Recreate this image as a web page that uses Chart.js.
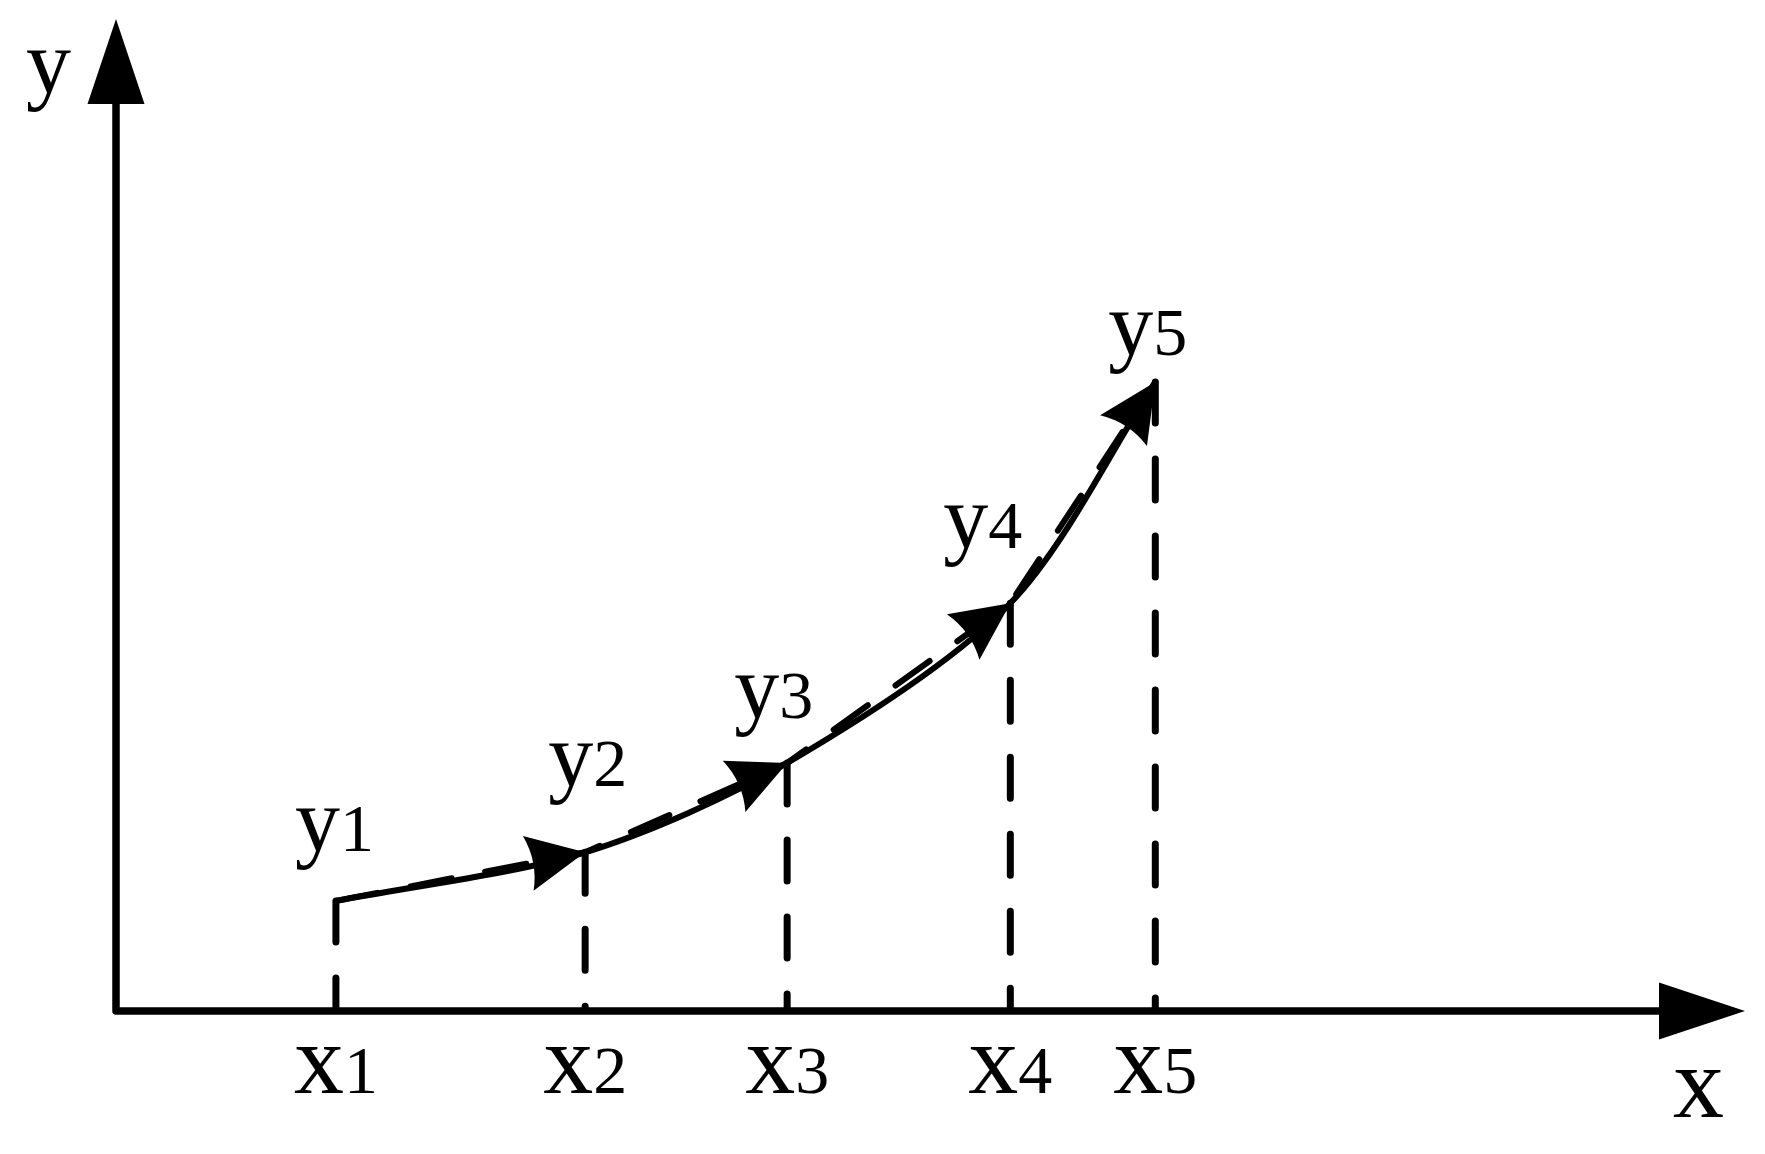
<!DOCTYPE html>
<html>
<head>
<meta charset="utf-8">
<title>x-y curve</title>
<script src="https://cdn.jsdelivr.net/npm/chart.js@4.4.1/dist/chart.umd.min.js"></script>
<style>
    html, body { margin: 0; padding: 0; background: #fff; }
    canvas { display: block; }
</style>
</head>
<body>
<canvas id="curveChart" width="1765" height="1154"></canvas>
<script>
// Data (axis runs 0..100 on both directions)
const xNames = ['x1', 'x2', 'x3', 'x4', 'x5'];
const yNames = ['y1', 'y2', 'y3', 'y4', 'y5'];
const xValues = [13.5, 28.8, 41.2, 54.9, 63.8];
const yValues = [11.1, 16.0, 25.0, 41.1, 63.4];
const axisMax = 100;

// Layout of the point labels (pixel offsets from each point: left edge, baseline)
const pointLabelOffsets = [[-41, -50], [-37, -66], [-53, -45], [-67, -55], [-47, -27]];

const FONT = '"Liberation Serif", "Times New Roman", serif';
const INK = '#000';

const points = xValues.map((x, i) => ({ x: x, y: yValues[i] }));

// vertical dashed drop lines, one dataset each
const dropLines = xValues.map((x, i) => ({
    data: [{ x: x, y: yValues[i] }, { x: x, y: 0 }],
    borderColor: INK,
    borderWidth: 7,
    borderDash: [41, 36],
    borderCapStyle: 'round',
    tension: 0
}));

function arrowHead(ctx, tipX, tipY, angle, len, half, notch) {
    ctx.save();
    ctx.translate(tipX, tipY);
    ctx.rotate(angle);
    ctx.beginPath();
    ctx.moveTo(0, 0);
    ctx.lineTo(-len, -half);
    ctx.quadraticCurveTo(-len + notch * 2, 0, -len, half);
    ctx.closePath();
    ctx.fillStyle = INK;
    ctx.fill();
    ctx.restore();
}

// letter big, digit smaller, sharing one baseline
function drawName(ctx, name, x, baseline, letterSize, digitSize, centered) {
    const letter = name.charAt(0);
    const digit = name.slice(1);
    ctx.font = letterSize + 'px ' + FONT;
    const lw = ctx.measureText(letter).width;
    ctx.font = digitSize + 'px ' + FONT;
    const dw = ctx.measureText(digit).width;
    let left = centered ? x - (lw + dw) / 2 : x;
    ctx.textBaseline = 'alphabetic';
    ctx.textAlign = 'left';
    ctx.fillStyle = INK;
    ctx.font = letterSize + 'px ' + FONT;
    ctx.fillText(letter, left, baseline);
    ctx.font = digitSize + 'px ' + FONT;
    ctx.fillText(digit, left + lw, baseline);
}

const schematicPlugin = {
    id: 'schematic',
    beforeDatasetsDraw(chart) {
        const ctx = chart.ctx;
        const xs = chart.scales.x;
        const ys = chart.scales.y;
        const ox = xs.getPixelForValue(0);
        const oy = ys.getPixelForValue(0);
        const topY = ys.getPixelForValue(axisMax);
        const rightX = xs.getPixelForValue(axisMax);

        ctx.save();
        ctx.strokeStyle = INK;
        ctx.lineWidth = 7.5;
        ctx.lineJoin = 'round';
        ctx.lineCap = 'butt';
        ctx.beginPath();
        ctx.moveTo(ox, topY + 80);
        ctx.lineTo(ox, oy);
        ctx.lineTo(rightX - 80, oy);
        ctx.stroke();
        ctx.restore();

        arrowHead(ctx, ox, topY, -Math.PI / 2, 85, 28.5, 0);
        arrowHead(ctx, rightX, oy, 0, 86, 28.5, 0);
    },
    afterDatasetsDraw(chart) {
        const ctx = chart.ctx;
        const xs = chart.scales.x;
        const ys = chart.scales.y;
        const oy = ys.getPixelForValue(0);
        const ox = xs.getPixelForValue(0);

        // arrowheads along the broken line
        const meta = chart.getDatasetMeta(1);
        for (let i = 1; i < meta.data.length; i++) {
            const p = meta.data[i];
            const q = meta.data[i - 1];
            const a = Math.atan2(p.y - q.y, p.x - q.x);
            arrowHead(ctx, p.x, p.y, a, 58, 28, 5);
        }

        ctx.save();
        // tick names under the x axis
        xNames.forEach((name, i) => {
            drawName(ctx, name, xs.getPixelForValue(xValues[i]), oy + 82, 100, 68, true);
        });
        // point names
        yNames.forEach((name, i) => {
            const px = xs.getPixelForValue(xValues[i]);
            const py = ys.getPixelForValue(yValues[i]);
            const off = pointLabelOffsets[i];
            drawName(ctx, name, px + off[0], py + off[1], 90, 68, false);
        });
        // axis names
        ctx.fillStyle = INK;
        ctx.textAlign = 'left';
        ctx.textBaseline = 'alphabetic';
        ctx.font = '90px ' + FONT;
        ctx.fillText('y', ox - 90, 93);
        ctx.font = '102px ' + FONT;
        ctx.fillText('x', xs.getPixelForValue(axisMax) - 72, oy + 106);
        ctx.restore();
    }
};

new Chart(document.getElementById('curveChart'), {
    type: 'line',
    data: {
        datasets: [
            {
                data: points,
                borderColor: INK,
                borderWidth: 6,
                tension: 0.3,
                borderCapStyle: 'butt'
            },
            {
                data: points,
                borderColor: INK,
                borderWidth: 6,
                borderDash: [42, 34],
                borderCapStyle: 'round',
                tension: 0
            },
            ...dropLines
        ]
    },
    options: {
        responsive: false,
        animation: false,
        devicePixelRatio: 1,
        layout: { padding: { left: 116, right: 20, top: 19, bottom: 143 } },
        elements: { point: { radius: 0, hoverRadius: 0 } },
        plugins: {
            legend: { display: false },
            tooltip: { enabled: false }
        },
        scales: {
            x: { type: 'linear', min: 0, max: axisMax, display: false },
            y: { type: 'linear', min: 0, max: axisMax, display: false }
        }
    },
    plugins: [schematicPlugin]
});
</script>
</body>
</html>
